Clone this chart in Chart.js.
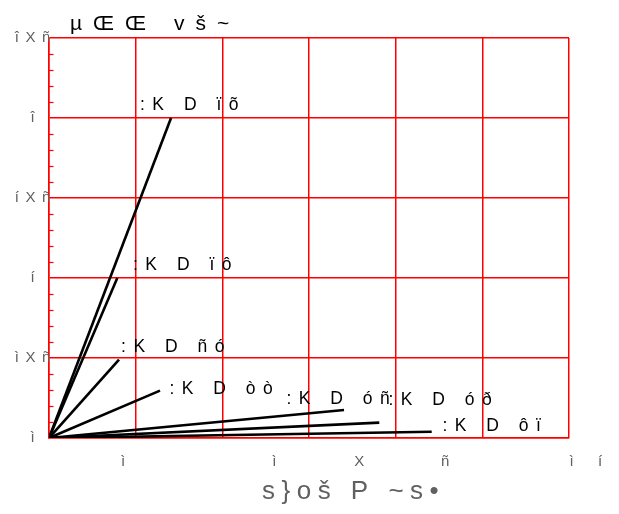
<!DOCTYPE html>
<html>
<head>
<meta charset="utf-8">
<script src="https://cdn.jsdelivr.net/npm/chart.js@4.4.0/dist/chart.umd.min.js"></script>
<style>
  body { margin: 0; background: #fff; }
</style>
</head>
<body>
<canvas id="angleChart" width="619" height="514"></canvas>
<script>
// Chart values
const originX = 0;
const originY = 0;
const lineEndX = [1.408, 0.788, 0.808, 1.281, 3.404, 3.811, 4.416];
const lineEndY = [2.0, 1.0, 0.49, 0.296, 0.175, 0.096, 0.039];
const lineLabels = [":K D ïõ", ":K D ïô", ":K D ñó", ":K D òò", ":K D óñ", ":K D óð", ":K D ôï"];
const labelX = [1.05, 0.969, 0.831, 1.39, 2.74, 3.917, 4.54];
const labelY = [2.078, 1.078, 0.569, 0.304, 0.241, 0.2375, 0.072];
const yTickValues = [0, 0.5, 1, 1.5, 2, 2.5];
const yTickLabels = ["ì", "ìXñ", "í", "íXñ", "î", "îXñ"];
const xTickValues = [0.854, 2.6, 3.58, 4.57, 6.03, 6.36];
const xTickLabels = ["ì", "ì", "X", "ñ", "ì", "í"];
const chartTitle = "µŒŒ vš~";
const xTitle = "s}oš P ~s•";

const FONT = '"Liberation Sans", Arial, sans-serif';
const RED = "#ff0000";
const GREY = "#606060";

Chart.defaults.font.family = FONT;

// Build one two-point dataset per line
const datasets = lineEndX.map((x, i) => ({
  label: lineLabels[i],
  data: [{ x: originX, y: originY }, { x: x, y: lineEndY[i] }],
  showLine: true,
  borderColor: "#000",
  borderWidth: 2.6,
  pointRadius: 0,
  fill: false,
}));

// Small inward ticks on the left axis
const minorTicks = {
  id: "minorTicks",
  beforeDatasetsDraw(chart) {
    const { ctx, chartArea, scales } = chart;
    ctx.save();
    ctx.strokeStyle = RED;
    ctx.lineWidth = 1.2;
    for (let k = 1; k < 25; k++) {
      if (k % 5 === 0) continue;
      const py = Math.round(scales.y.getPixelForValue(k / 10)) + 0.5;
      ctx.beginPath();
      ctx.moveTo(chartArea.left, py);
      ctx.lineTo(chartArea.left + 4.5, py);
      ctx.stroke();
    }
    ctx.restore();
  },
};

// Texts drawn on the canvas: title, x labels, x title, line labels
const freeText = {
  id: "freeText",
  beforeDraw(chart) {
    chart.ctx.letterSpacing = "6.5px";
  },
  afterDraw(chart) {
    const { ctx, chartArea, scales } = chart;
    ctx.save();

    ctx.letterSpacing = "11px";
    ctx.fillStyle = "#000";
    ctx.font = "21px " + FONT;
    ctx.textAlign = "left";
    ctx.textBaseline = "alphabetic";
    ctx.fillText(chartTitle, chartArea.left + 21, chartArea.top - 8);

    ctx.letterSpacing = "0px";
    ctx.fillStyle = GREY;
    ctx.font = "15px " + FONT;
    ctx.textAlign = "center";
    ctx.textBaseline = "middle";
    xTickValues.forEach((v, i) => {
      ctx.fillText(xTickLabels[i], scales.x.getPixelForValue(v), chartArea.bottom + 24);
    });

    ctx.letterSpacing = "6.5px";
    ctx.font = "26px " + FONT;
    ctx.textAlign = "left";
    ctx.fillText(xTitle, 262, chartArea.bottom + 54);

    ctx.letterSpacing = "7.5px";
    ctx.fillStyle = "#000";
    ctx.font = "17.5px " + FONT;
    lineLabels.forEach((t, i) => {
      ctx.fillText(t, scales.x.getPixelForValue(labelX[i]), scales.y.getPixelForValue(labelY[i]));
    });

    ctx.restore();
    ctx.letterSpacing = "0px";
  },
};

const ctx = document.getElementById("angleChart").getContext("2d");
const angleChart = new Chart(ctx, {
  type: "scatter",
  data: { datasets: datasets },
  options: {
    responsive: false,
    animation: false,
    layout: { padding: { left: 0, right: 50, top: 38, bottom: 0 } },
    plugins: {
      legend: { display: false },
      tooltip: { enabled: false },
    },
    scales: {
      x: {
        type: "linear",
        min: 0,
        max: 6,
        ticks: { stepSize: 1, display: false },
        grid: { color: RED, lineWidth: 1.5, drawTicks: false },
        border: { color: RED, width: 1.5 },
        afterFit(scale) { scale.height = 76; },
      },
      y: {
        type: "linear",
        min: 0,
        max: 2.5,
        ticks: {
          stepSize: 0.5,
          color: GREY,
          font: { size: 15 },
          crossAlign: "center",
          padding: 2,
          callback: (value) => {
            const i = yTickValues.findIndex((v) => Math.abs(v - value) < 1e-9);
            return i >= 0 ? yTickLabels[i] : "";
          },
        },
        grid: { color: RED, lineWidth: 1.5, drawTicks: false },
        border: { color: RED, width: 1.5 },
        afterFit(scale) { scale.width = 49; },
      },
    },
  },
  plugins: [minorTicks, freeText],
});
</script>
</body>
</html>
